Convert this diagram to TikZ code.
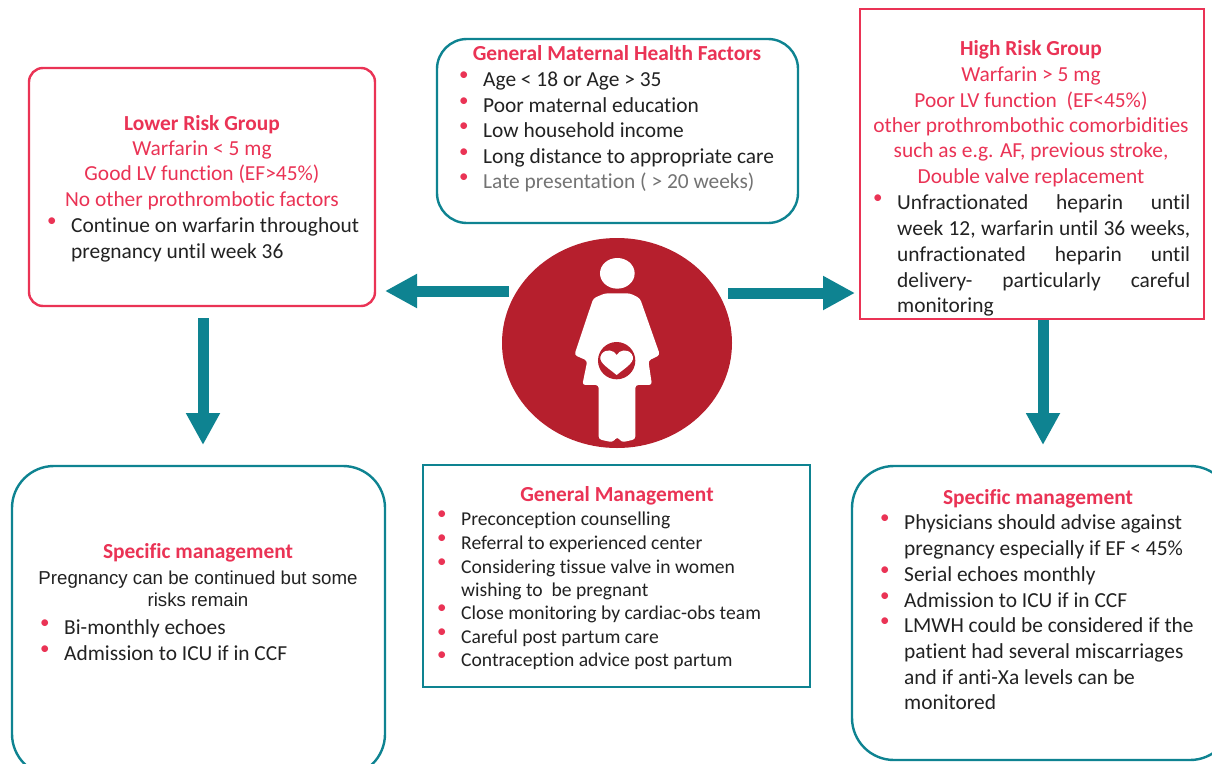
\documentclass[tikz,border=0pt]{standalone}
\usepackage{fontspec}
\setmainfont[Ligatures=NoCommon]{Carlito}
\newfontfamily\arialf{Liberation Sans}
\usetikzlibrary{arrows.meta,calc,shapes.geometric}
\definecolor{teal1}{HTML}{0E8391}
\definecolor{rose}{HTML}{EA3355}
\definecolor{dred}{HTML}{B61F2D}
\definecolor{ink}{HTML}{222222}
\newcounter{tn}
\tikzset{
  x=1pt,y=-1pt,
  tealbox/.style={draw=teal1,line width=2.4pt,anchor=north west,outer sep=0pt},
  rosebox/.style={draw=rose,line width=2.4pt,anchor=north west,outer sep=0pt},
  flow/.style={draw=teal1,line width=11pt,-{Triangle[length=32pt,width=32pt]}},
  tline/.style={inner sep=0pt,text=ink,anchor=base west,font=\fontsize{21.4}{25}\selectfont},
  ctr/.style={anchor=base,text=rose},
  ttl/.style={anchor=base,text=rose,font=\fontsize{21.4}{25}\selectfont\bfseries},
  sml/.style={font=\fontsize{19.6}{23}\selectfont},
  arl/.style={anchor=base,font=\fontsize{18.7}{22}\selectfont\arialf},
  bul/.style={text=rose,font=\fontsize{19}{22}\selectfont},
}
\newcommand{\tl}[4][]{\stepcounter{tn}\edef\tnn{t\arabic{tn}}\node[tline,#1] (\tnn) at (#2,#3+0.8) {#4};}
\newcommand{\bl}[4][]{\tl[#1]{#2}{#3}{#4}\tl[bul]{#2-24}{#3-6}{•}}
\begin{document}
\begin{tikzpicture}
\useasboundingbox (0,0) rectangle (1212,763);
\fill[white] (0,0) rectangle (1212,763);
% boxes
\node[rosebox,rounded corners=14pt,minimum width=346pt,minimum height=238pt] (lower) at (29,68) {};
\node[tealbox,rounded corners=30pt,minimum width=361pt,minimum height=184pt] (general) at (437,39) {};
\node[rosebox,minimum width=344pt,minimum height=310pt] (high) at (860,9) {};
\node[tealbox,rounded corners=42pt,minimum width=373pt,minimum height=310pt] (speclow) at (12,466) {};
\node[tealbox,minimum width=387pt,minimum height=222pt] (manage) at (423,465) {};
\node[tealbox,rounded corners=42pt,minimum width=380pt,minimum height=294pt] (spechigh) at (852,466) {};
% circle
\node[fill=dred,ellipse,minimum width=230pt,minimum height=210pt,inner sep=0pt,outer sep=0pt] (mother) at (617,343) {};
\begin{scope}[shift={(480,230)},x=0.3333pt,y=-0.3333pt]
\fill[white] (412,130) ellipse [x radius=52,y radius=46];
\fill[white,rounded corners=3pt] (375,190) -- (450,190) -- (480,205) -- (540,375) -- (505,392) -- (516,465) -- (466,465) -- (466,628) -- (425,637) -- (412,620) -- (398,637) -- (356,628) -- (356,465) -- (307,465) -- (322,392) -- (283,375) -- (340,205) -- cycle;
\fill[dred] (410,392) circle [radius=56];
\fill[white] (410,435) .. controls (380,410) and (350,395) .. (365,372) .. controls (378,355) and (402,360) .. (410,375) .. controls (418,360) and (442,355) .. (455,372) .. controls (470,395) and (440,410) .. (410,435) -- cycle;
\end{scope}
% arrows
\draw[flow] ([shift={(-108,-52)}]mother.center) -- ([shift={(10,-15)}]lower.south east);
\draw[flow] ([shift={(111,-50)}]mother.center) -- ([shift={(-5,-26)}]high.south west);
\draw[flow] ([shift={(174,12)}]lower.south west) -- ([shift={(174,-21)}]speclow.north west -| lower.south west);
\draw[flow] ([shift={(183,1)}]high.south west) -- ([shift={(191,-21)}]spechigh.north west);
% lower risk
\tl[ttl]{202}{130}{Lower Risk Group}
\tl[ctr]{202}{155}{Warfarin < 5 mg}
\tl[ctr]{202}{180}{Good LV function (EF>45\%)}
\tl[ctr]{202}{206}{No other prothrombotic factors}
\bl{71}{232}{Continue on warfarin throughout}
\tl{71}{258}{pregnancy until week 36}
% general maternal
\tl[ttl]{617}{60}{General Maternal Health Factors}
\bl{483}{86}{Age < 18 or Age > 35}
\bl{483}{112}{Poor maternal education}
\bl{483}{137}{Low household income}
\bl{483}{163}{Long distance to appropriate care}
\bl{483}{188}{\textcolor{black!55}{Late presentation ( > 20 weeks)}}
% high risk
\tl[ttl]{1031}{55}{High Risk Group}
\tl[ctr]{1031}{81}{Warfarin > 5 mg}
\tl[ctr]{1031}{107}{Poor LV function\ \ (EF<45\%)}
\tl[ctr]{1031}{132}{other prothrombothic comorbidities}
\tl[ctr]{1031}{157}{such as e.g. AF, previous stroke,}
\tl[ctr]{1031}{183}{Double valve replacement}
\bl{897}{209}{\hbox to 293pt{Unfractionated\hfill heparin\hfill until}}
\tl{897}{235}{\hbox to 293pt{week 12, warfarin until 36 weeks,}}
\tl{897}{261}{\hbox to 293pt{unfractionated\hfill heparin\hfill until}}
\tl{897}{287}{\hbox to 293pt{delivery-\hfill particularly\hfill careful}}
\tl{897}{312}{monitoring}
% specific low
\tl[ttl]{198}{558}{Specific management}
\tl[arl]{198}{584}{Pregnancy can be continued but some}
\tl[arl]{198}{606}{risks remain}
\bl{64}{634}{Bi-monthly echoes}
\bl{64}{660}{Admission to ICU if in CCF}
% general management
\tl[ttl]{617}{501}{General Management}
\bl[sml]{461}{525}{Preconception counselling}
\bl[sml]{461}{549}{Referral to experienced center}
\bl[sml]{461}{573}{Considering tissue valve in women}
\tl[sml]{461}{596}{wishing to\ \ be pregnant}
\bl[sml]{461}{619}{Close monitoring by cardiac-obs team}
\bl[sml]{461}{643}{Careful post partum care}
\bl[sml]{461}{666}{Contraception advice post partum}
% specific high
\tl[ttl]{1038}{504}{Specific management}
\bl{904}{529}{Physicians should advise against}
\tl{904}{555}{pregnancy especially if EF < 45\%}
\bl{904}{581}{Serial echoes monthly}
\bl{904}{607}{Admission to ICU if in CCF}
\bl{904}{632}{LMWH could be considered if the}
\tl{904}{658}{patient had several miscarriages}
\tl{904}{684}{and if anti-Xa levels can be}
\tl{904}{709}{monitored}
\end{tikzpicture}
\end{document}
